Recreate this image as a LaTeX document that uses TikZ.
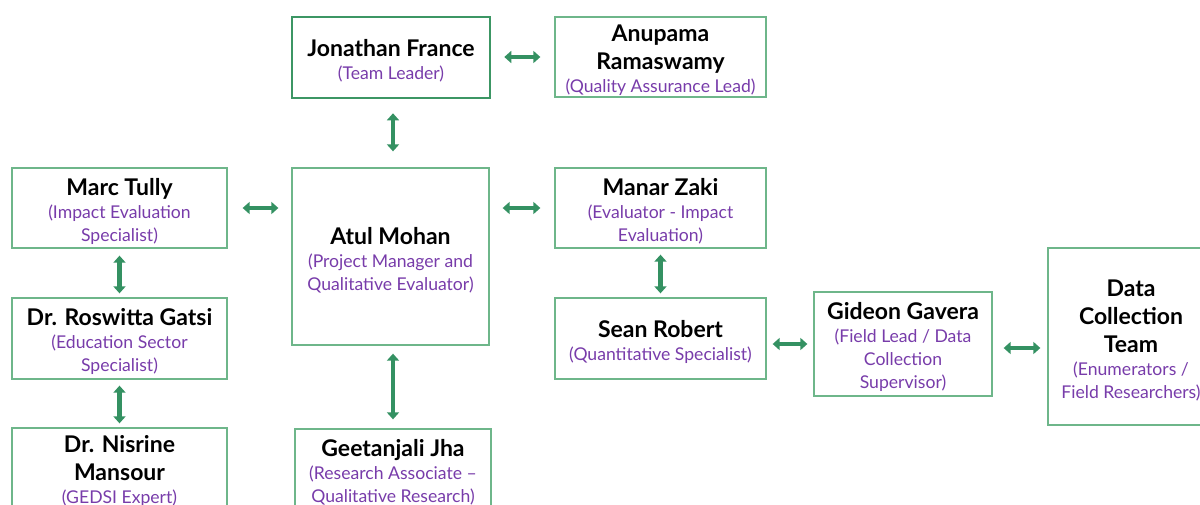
\documentclass[tikz,border=0pt]{standalone}
\usepackage{fontspec}
\setmainfont{Lato}
\usepackage{xcolor}
\definecolor{boxgreen}{RGB}{110,182,138}
\definecolor{arrowgreen}{RGB}{52,145,98}
\definecolor{leadgreen}{RGB}{60,150,100}
\definecolor{rolepurple}{RGB}{120,60,170}
\usepackage{tikz}
\usetikzlibrary{arrows.meta}

% name line (first one carries a taller strut), role line
\newcommand{\nm}[1]{{\fontsize{23}{28}\selectfont\bfseries #1}}
\newcommand{\topnm}[1]{{\fontsize{23}{28}\selectfont\bfseries\rule{0pt}{24pt}#1}}
\newcommand{\rl}[1]{{\color{rolepurple}#1}}

\begin{document}
\begin{tikzpicture}[x=1pt,y=-1pt,
  person/.style={draw=boxgreen, line width=1.3pt, fill=white, align=center, inner sep=0pt,
    font=\fontsize{17.6}{23}\selectfont},
  lead/.style={person, draw=leadgreen, line width=2.6pt},
  link/.style={arrowgreen, line width=4.5pt,
    {Triangle[width=12pt,length=7pt]}-{Triangle[width=12pt,length=7pt]}}
]

\useasboundingbox (0,0) rectangle (1200,504);

% Top row
\node[lead, minimum width=198, minimum height=81] (france) at (391,57.5)
  {\topnm{Jonathan France}\\ \rl{(Team Leader)}};
\node[person, minimum width=211, minimum height=80] (anupama) at (660.5,57)
  {\topnm{Anupama}\\[5pt] \nm{Ramaswamy}\\ \rl{(Quality Assurance Lead)}};

% Middle column
\node[person, minimum width=197, minimum height=177] (atul) at (390.5,256.5)
  {\topnm{Atul Mohan}\\ \rl{(Project Manager and}\\ \rl{Qualitative Evaluator)}};
\node[person, minimum width=196, minimum height=80] (geetanjali) at (393,469)
  {\topnm{Geetanjali Jha}\\ \rl{(Research Associate --}\\ \rl{Qualitative Research)}};

% Left column
\node[person, minimum width=215, minimum height=80] (marc) at (119.5,208)
  {\topnm{Marc Tully}\\ \rl{(Impact Evaluation}\\ \rl{Specialist)}};
\node[person, minimum width=215, minimum height=81] (roswitta) at (119.5,338.5)
  {\topnm{Dr. Roswitta Gatsi}\\ \rl{(Education Sector}\\ \rl{Specialist)}};
\node[person, minimum width=215, minimum height=80] (nisrine) at (119.5,468)
  {\topnm{Dr. Nisrine}\\[5pt] \nm{Mansour}\\ \rl{(GEDSI Expert)}};

% Right side
\node[person, minimum width=211, minimum height=80] (manar) at (660.5,208)
  {\topnm{Manar Zaki}\\ \rl{(Evaluator - Impact}\\ \rl{Evaluation)}};
\node[person, minimum width=211, minimum height=81] (sean) at (660.5,338.5)
  {\topnm{Sean Robert}\\ \rl{(Quantitative Specialist)}};
\node[person, minimum width=178, minimum height=104] (gideon) at (903,344)
  {\topnm{Gideon Gavera}\\ \rl{(Field Lead / Data}\\ \rl{Collection}\\ \rl{Supervisor)}};
\node[person, minimum width=166, minimum height=177] (datateam) at (1131,336.5)
  {\topnm{Data}\\[5pt] \nm{Collection}\\[5pt] \nm{Team}\\ \rl{(Enumerators /}\\ \rl{Field Researchers)}};

% Links
\draw[link, shorten <=13pt, shorten >=14pt] (france.east |- anupama.west) -- (anupama.west);
\draw[link, shorten <=14pt, shorten >=16pt] ([xshift=2pt]france.south) -- ([xshift=2.5pt]atul.north);
\draw[link, shorten <=15pt, shorten >=13pt] (marc.east) -- (marc.east -| atul.west);
\draw[link, shorten <=13pt, shorten >=14pt] (manar.west -| atul.east) -- (manar.west);
\draw[link, shorten <=8pt, shorten >=9pt] (atul.south -| geetanjali.north) -- (geetanjali.north);
\draw[link, shorten <=7pt, shorten >=4pt] (marc.south) -- (roswitta.north);
\draw[link, shorten <=6pt, shorten >=4pt] (roswitta.south) -- (nisrine.north);
\draw[link, shorten <=6pt, shorten >=4pt] (manar.south) -- (sean.north);
\draw[link, shorten <=6pt, shorten >=6pt] (sean.east |- gideon.west) -- (gideon.west);
\draw[link, shorten <=11pt, shorten >=7pt] ([yshift=-4pt]gideon.east) -- ([yshift=-4pt]gideon.east -| datateam.west);

\end{tikzpicture}
\end{document}
